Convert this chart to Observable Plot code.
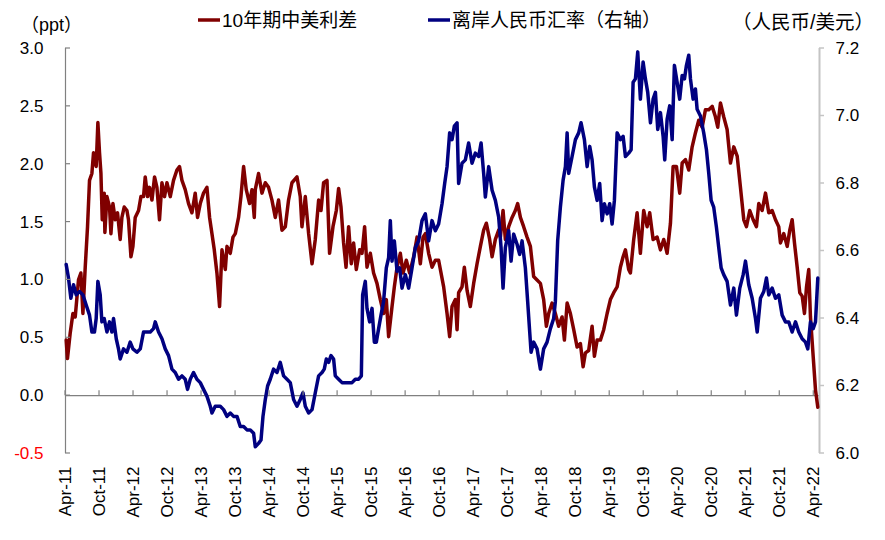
<!DOCTYPE html>
<html><head><meta charset="utf-8">
<script src="https://cdn.jsdelivr.net/npm/d3@7"></script>
<script src="https://cdn.jsdelivr.net/npm/@observablehq/plot@0.6"></script>
<style>
body{margin:0;background:#fff}
#chart{width:885px;height:540px}
</style>
</head><body><div id="chart"></div>
<script>
// ---- data (decimal years) ----
const spreadT = [
2011.260,2011.279,2011.319,2011.359,2011.393,2011.441,2011.476,2011.506,2011.540,2011.574,
2011.603,2011.638,2011.662,2011.701,2011.726,2011.750,2011.771,2011.790,2011.819,2011.829,
2011.859,2011.897,2011.918,2011.947,2011.981,2012.015,2012.054,2012.079,2012.113,2012.153,
2012.176,2012.212,2012.241,2012.275,2012.324,2012.359,2012.397,2012.422,2012.456,2012.485,
2012.521,2012.559,2012.594,2012.632,2012.668,2012.706,2012.741,2012.790,2012.838,2012.888,
2012.926,2012.962,2013.010,2013.059,2013.109,2013.157,2013.191,2013.231,2013.279,2013.329,
2013.368,2013.403,2013.437,2013.476,2013.515,2013.550,2013.599,2013.624,2013.672,2013.712,
2013.746,2013.794,2013.829,2013.868,2013.907,2013.956,2013.991,2014.025,2014.040,2014.088,
2014.138,2014.187,2014.235,2014.285,2014.334,2014.382,2014.432,2014.481,2014.529,2014.579,
2014.653,2014.701,2014.726,2014.775,2014.824,2014.874,2014.922,2014.971,2015.006,2015.044,
2015.094,2015.132,2015.182,2015.231,2015.265,2015.300,2015.338,2015.374,2015.412,2015.451,
2015.485,2015.525,2015.574,2015.609,2015.647,2015.682,2015.731,2015.779,2015.829,2015.878,
2015.926,2015.966,2016.000,2016.050,2016.084,2016.124,2016.172,2016.212,2016.260,2016.309,
2016.368,2016.418,2016.466,2016.506,2016.540,2016.588,2016.638,2016.687,2016.735,2016.809,
2016.859,2016.897,2016.932,2016.981,2017.006,2017.029,2017.079,2017.113,2017.153,2017.201,
2017.250,2017.300,2017.349,2017.397,2017.437,2017.485,2017.521,2017.569,2017.618,2017.643,
2017.682,2017.716,2017.765,2017.815,2017.863,2017.897,2017.937,2017.985,2018.035,2018.084,
2018.132,2018.182,2018.231,2018.279,2018.319,2018.353,2018.403,2018.451,2018.500,2018.550,
2018.584,2018.624,2018.672,2018.721,2018.771,2018.819,2018.859,2018.893,2018.941,2018.991,
2019.025,2019.065,2019.113,2019.162,2019.212,2019.260,2019.309,2019.359,2019.407,2019.447,
2019.481,2019.529,2019.554,2019.603,2019.653,2019.701,2019.750,2019.800,2019.838,2019.888,
2019.947,2019.996,2020.044,2020.094,2020.143,2020.182,2020.231,2020.279,2020.315,2020.363,
2020.412,2020.462,2020.510,2020.559,2020.609,2020.657,2020.706,2020.756,2020.804,2020.838,
2020.878,2020.926,2020.976,2021.025,2021.074,2021.124,2021.172,2021.221,2021.260,2021.309,
2021.359,2021.407,2021.441,2021.491,2021.540,2021.588,2021.638,2021.687,2021.735,2021.760,
2021.809,2021.859,2021.897,2021.932,2021.966,2022.006,2022.044,2022.079,2022.113,2022.143,
2022.176,2022.201,2022.241,2022.275,2022.309];
const spreadV = [
0.48,0.32,0.54,0.71,0.68,1.00,1.06,0.71,1.11,1.46,
1.86,1.92,2.10,1.98,2.36,2.10,1.92,1.52,1.75,1.41,
1.72,1.63,1.40,1.66,1.52,1.58,1.35,1.54,1.63,1.60,
1.52,1.20,1.29,1.54,1.60,1.72,1.72,1.89,1.72,1.80,
1.69,1.89,1.80,1.52,1.84,1.72,1.84,1.72,1.86,1.95,
1.98,1.86,1.78,1.66,1.58,1.75,1.54,1.66,1.75,1.80,
1.54,1.40,1.26,1.06,0.77,1.26,1.09,1.29,1.23,1.37,
1.40,1.54,1.72,1.98,1.78,1.66,1.78,1.54,1.78,1.92,
1.75,1.84,1.80,1.69,1.54,1.69,1.43,1.46,1.69,1.84,
1.89,1.72,1.46,1.72,1.40,1.14,1.35,1.69,1.60,1.84,
1.86,1.23,1.46,1.60,1.79,1.63,1.32,1.11,1.46,1.14,
1.32,1.09,1.26,1.23,1.46,1.11,1.23,1.06,0.97,0.83,
0.71,0.83,0.51,0.77,0.94,1.11,1.23,1.06,1.17,1.06,
1.20,1.37,1.14,1.37,1.40,1.23,1.11,1.17,1.17,0.94,
0.71,0.51,0.77,0.83,0.57,0.89,0.94,1.11,0.91,0.77,
0.97,1.14,1.29,1.43,1.49,1.35,1.20,1.35,1.43,1.37,
1.60,1.35,1.46,1.54,1.60,1.66,1.54,1.46,1.37,1.29,
1.03,1.00,0.97,0.83,0.60,0.71,0.80,0.71,0.60,0.68,
0.48,0.80,0.71,0.57,0.42,0.45,0.25,0.37,0.39,0.60,
0.34,0.48,0.48,0.57,0.71,0.83,0.89,0.94,1.11,1.20,
1.26,1.09,1.06,1.35,1.58,1.23,1.60,1.46,1.58,1.35,
1.37,1.26,1.35,1.23,1.49,1.98,1.98,1.75,2.01,2.04,
1.95,2.15,2.27,2.38,2.32,2.47,2.47,2.50,2.41,2.32,
2.53,2.41,2.30,2.01,2.15,2.07,1.80,1.52,1.46,1.60,
1.52,1.46,1.66,1.60,1.75,1.58,1.60,1.52,1.46,1.32,
1.40,1.29,1.43,1.52,1.32,1.11,0.89,0.86,0.71,0.94,
1.09,0.68,0.34,0.05,-0.10];
const cnhT = [
2011.260,2011.294,2011.329,2011.368,2011.407,2011.456,2011.506,2011.554,2011.603,2011.638,
2011.676,2011.701,2011.726,2011.760,2011.785,2011.819,2011.859,2011.897,2011.932,2011.956,
2011.996,2012.029,2012.054,2012.103,2012.153,2012.201,2012.241,2012.300,2012.349,2012.397,
2012.447,2012.496,2012.544,2012.569,2012.618,2012.668,2012.716,2012.765,2012.815,2012.863,
2012.912,2012.962,2013.010,2013.044,2013.084,2013.132,2013.182,2013.231,2013.279,2013.329,
2013.378,2013.403,2013.451,2013.525,2013.574,2013.624,2013.672,2013.721,2013.771,2013.819,
2013.868,2013.918,2013.966,2014.015,2014.040,2014.088,2014.124,2014.153,2014.187,2014.221,
2014.260,2014.309,2014.359,2014.407,2014.456,2014.506,2014.554,2014.603,2014.653,2014.701,
2014.741,2014.775,2014.824,2014.874,2014.922,2014.971,2015.021,2015.054,2015.084,2015.118,
2015.153,2015.191,2015.216,2015.265,2015.315,2015.363,2015.412,2015.462,2015.510,2015.559,
2015.599,2015.618,2015.657,2015.682,2015.721,2015.756,2015.790,2015.819,2015.853,2015.888,
2015.926,2015.966,2016.000,2016.025,2016.050,2016.084,2016.124,2016.162,2016.197,2016.246,
2016.294,2016.344,2016.393,2016.441,2016.491,2016.540,2016.588,2016.638,2016.687,2016.735,
2016.785,2016.824,2016.859,2016.897,2016.932,2016.966,2017.006,2017.029,2017.079,2017.128,
2017.176,2017.226,2017.275,2017.324,2017.359,2017.397,2017.422,2017.471,2017.521,2017.569,
2017.618,2017.653,2017.682,2017.716,2017.765,2017.800,2017.838,2017.888,2017.926,2017.962,
2018.010,2018.044,2018.074,2018.094,2018.132,2018.182,2018.231,2018.279,2018.329,2018.378,
2018.426,2018.451,2018.485,2018.525,2018.565,2018.599,2018.624,2018.647,2018.697,2018.746,
2018.794,2018.829,2018.878,2018.918,2018.956,2018.991,2019.025,2019.065,2019.103,2019.138,
2019.172,2019.212,2019.250,2019.285,2019.319,2019.359,2019.407,2019.447,2019.481,2019.529,
2019.565,2019.594,2019.628,2019.662,2019.701,2019.741,2019.775,2019.809,2019.849,2019.888,
2019.922,2019.956,2019.996,2020.035,2020.059,2020.094,2020.132,2020.168,2020.201,2020.241,
2020.279,2020.315,2020.349,2020.378,2020.412,2020.437,2020.476,2020.510,2020.535,2020.584,
2020.632,2020.672,2020.706,2020.741,2020.779,2020.819,2020.853,2020.888,2020.926,2020.976,
2021.025,2021.074,2021.113,2021.162,2021.212,2021.246,2021.294,2021.344,2021.393,2021.418,
2021.466,2021.515,2021.554,2021.588,2021.638,2021.687,2021.735,2021.785,2021.834,2021.882,
2021.932,2021.981,2022.029,2022.079,2022.128,2022.162,2022.201,2022.241,2022.275,2022.309];
const cnhV = [
6.56,6.52,6.46,6.50,6.47,6.48,6.47,6.44,6.41,6.36,
6.36,6.40,6.51,6.47,6.39,6.40,6.36,6.39,6.36,6.40,
6.34,6.31,6.28,6.31,6.30,6.33,6.31,6.30,6.31,6.36,
6.36,6.36,6.37,6.39,6.36,6.34,6.31,6.29,6.25,6.24,
6.22,6.23,6.22,6.19,6.22,6.24,6.22,6.21,6.19,6.17,
6.14,6.12,6.14,6.14,6.13,6.11,6.12,6.11,6.11,6.08,
6.08,6.07,6.07,6.06,6.02,6.03,6.04,6.11,6.16,6.20,
6.22,6.25,6.24,6.27,6.23,6.22,6.21,6.16,6.14,6.16,
6.18,6.14,6.12,6.13,6.18,6.23,6.24,6.25,6.28,6.27,
6.29,6.28,6.23,6.22,6.21,6.21,6.21,6.21,6.22,6.22,
6.23,6.47,6.51,6.43,6.39,6.43,6.33,6.33,6.37,6.41,
6.45,6.55,6.58,6.69,6.57,6.63,6.54,6.55,6.49,6.53,
6.49,6.55,6.61,6.63,6.69,6.71,6.63,6.69,6.66,6.68,
6.74,6.80,6.85,6.95,6.93,6.97,6.98,6.80,6.86,6.87,
6.92,6.86,6.89,6.88,6.92,6.83,6.76,6.85,6.78,6.75,
6.70,6.61,6.49,6.61,6.66,6.57,6.65,6.62,6.59,6.63,
6.55,6.45,6.36,6.30,6.33,6.31,6.25,6.31,6.33,6.37,
6.40,6.45,6.63,6.73,6.81,6.85,6.95,6.83,6.88,6.93,
6.95,6.98,6.93,6.85,6.91,6.87,6.79,6.75,6.80,6.69,
6.74,6.71,6.74,6.68,6.75,6.95,6.93,6.94,6.88,6.89,
6.90,7.10,7.11,7.19,7.05,7.16,7.11,7.07,6.98,7.05,
7.07,6.96,7.01,6.94,6.87,6.99,7.03,6.93,7.15,7.10,
7.05,7.12,7.11,7.15,7.18,7.11,7.05,7.08,7.02,7.00,
6.95,6.90,6.83,6.75,6.73,6.67,6.61,6.55,6.53,6.51,
6.44,6.49,6.41,6.49,6.53,6.57,6.50,6.46,6.40,6.36,
6.46,6.48,6.52,6.47,6.49,6.46,6.47,6.41,6.39,6.39,
6.36,6.39,6.36,6.34,6.33,6.31,6.39,6.37,6.39,6.52];

const seriesNames = ["10年期中美利差", "离岸人民币汇率（右轴）"];
const seriesColors = ["#800000", "#000080"];
const leftUnit = "（ppt）";
const rightUnit = "（人民币/美元）";
const leftTicks = [-0.5, 0, 0.5, 1.0, 1.5, 2.0, 2.5, 3.0];
const rightTicks = [6.0, 6.2, 6.4, 6.6, 6.8, 7.0, 7.2];
const xTicks = [2011.25,2011.75,2012.25,2012.75,2013.25,2013.75,2014.25,2014.75,2015.25,2015.75,
  2016.25,2016.75,2017.25,2017.75,2018.25,2018.75,2019.25,2019.75,2020.25,2020.75,2021.25,2021.75,2022.25];
const xTickLabels = ["Apr-11","Oct-11","Apr-12","Oct-12","Apr-13","Oct-13","Apr-14","Oct-14","Apr-15","Oct-15",
  "Apr-16","Oct-16","Apr-17","Oct-17","Apr-18","Oct-18","Apr-19","Oct-19","Apr-20","Oct-20","Apr-21","Oct-21","Apr-22"];
const xDomain = [2011.25, 2022.334];
const leftDomain = [-0.5, 3.0];
const rightDomain = [6.0, 7.2];

// ---- build ----
const toLeft = r => leftDomain[0] + (r - rightDomain[0]) * (leftDomain[1] - leftDomain[0]) / (rightDomain[1] - rightDomain[0]);
const n1 = Math.min(spreadT.length, spreadV.length);
const n2 = Math.min(cnhT.length, cnhV.length);
const spread = spreadT.slice(0, n1).map((t, i) => ({t, v: spreadV[i]}));
const cnh = cnhT.slice(0, n2).map((t, i) => ({t, v: toLeft(cnhV[i])}));

const latin = "'Liberation Sans', Arial, 'Noto Sans CJK SC', sans-serif";
const cjk = "'Liberation Sans', 'Noto Sans CJK SC', sans-serif";

const plot = Plot.plot({
  width: 885, height: 540,
  marginLeft: 65, marginRight: 66, marginTop: 48, marginBottom: 87,
  style: {fontFamily: latin, fontSize: "17px", background: "#fff", color: "#000", overflow: "visible"},
  x: {domain: xDomain},
  y: {domain: leftDomain},
  marks: [
    Plot.ruleY([0], {stroke: "#808080", strokeWidth: 1.2}),
    Plot.ruleX([xDomain[0]], {stroke: "#808080", strokeWidth: 1.2}),
    Plot.ruleX([xDomain[1]], {stroke: "#c4c4c4", strokeWidth: 2}),
    Plot.axisX({ticks: xTicks, tickFormat: d => xTickLabels[xTicks.indexOf(d)], tickRotate: -90,
      tickSize: 0, tickPadding: 13, label: null, fill: "#000"}),
    Plot.axisY({anchor: "left", ticks: leftTicks.filter(d => d >= 0), tickFormat: d => d.toFixed(1),
      tickSize: 0, tickPadding: 22, label: null, fill: "#000"}),
    Plot.axisY({anchor: "left", ticks: leftTicks.filter(d => d < 0), tickFormat: d => d.toFixed(1),
      tickSize: 0, tickPadding: 22, label: null, fill: "#ff0000"}),
    Plot.axisY({anchor: "right", ticks: rightTicks.map(toLeft),
      tickFormat: d => (rightTicks.find(r => Math.abs(toLeft(r) - d) < 1e-9) ?? 0).toFixed(1),
      tickSize: 0, tickPadding: 16, label: null, fill: "#000"}),
    Plot.line(spread, {x: "t", y: "v", stroke: seriesColors[0], strokeWidth: 3.5, strokeLinejoin: "round"}),
    Plot.line(cnh, {x: "t", y: "v", stroke: seriesColors[1], strokeWidth: 3.5, strokeLinejoin: "round"})
  ]
});
document.getElementById("chart").appendChild(plot);

// ---- ticks, legend, unit labels using the plot's scales ----
const xs = plot.scale("x"), ys = plot.scale("y");
const svg = d3.select(plot);
const g = svg.append("g").attr("text-anchor", "start");
const y0 = ys.apply(0);
xTicks.forEach(t => {
  g.append("line").attr("x1", xs.apply(t)).attr("x2", xs.apply(t))
    .attr("y1", y0 - 5).attr("y2", y0).attr("stroke", "#808080").attr("stroke-width", 1.2);
});
const xl = xs.apply(xDomain[0]), xr = xs.apply(xDomain[1]);
leftTicks.forEach(v => {
  g.append("line").attr("x1", xl).attr("x2", xl + 5).attr("y1", ys.apply(v)).attr("y2", ys.apply(v))
    .attr("stroke", "#808080").attr("stroke-width", 1.2);
});
rightTicks.forEach(r => {
  g.append("line").attr("x1", xr).attr("x2", xr + 5).attr("y1", ys.apply(toLeft(r))).attr("y2", ys.apply(toLeft(r)))
    .attr("stroke", "#c4c4c4").attr("stroke-width", 1.5);
});

const legendX = [198, 428];
seriesNames.forEach((name, i) => {
  g.append("line").attr("x1", legendX[i]).attr("x2", legendX[i] + 22).attr("y1", 20).attr("y2", 20)
    .attr("stroke", seriesColors[i]).attr("stroke-width", 3.5);
  g.append("text").attr("x", legendX[i] + 24).attr("y", 26.5).attr("text-anchor", "start")
    .attr("font-family", cjk).attr("font-size", 19).attr("fill", "#000").text(name);
});
g.append("text").attr("x", 21).attr("y", 31).attr("text-anchor", "start").attr("font-family", cjk)
  .attr("font-size", 18).attr("fill", "#000").text(leftUnit);
g.append("text").attr("x", 732).attr("y", 29).attr("text-anchor", "start").attr("font-family", cjk)
  .attr("font-size", 19.5).attr("fill", "#000").text(rightUnit);
</script>
</body></html>
